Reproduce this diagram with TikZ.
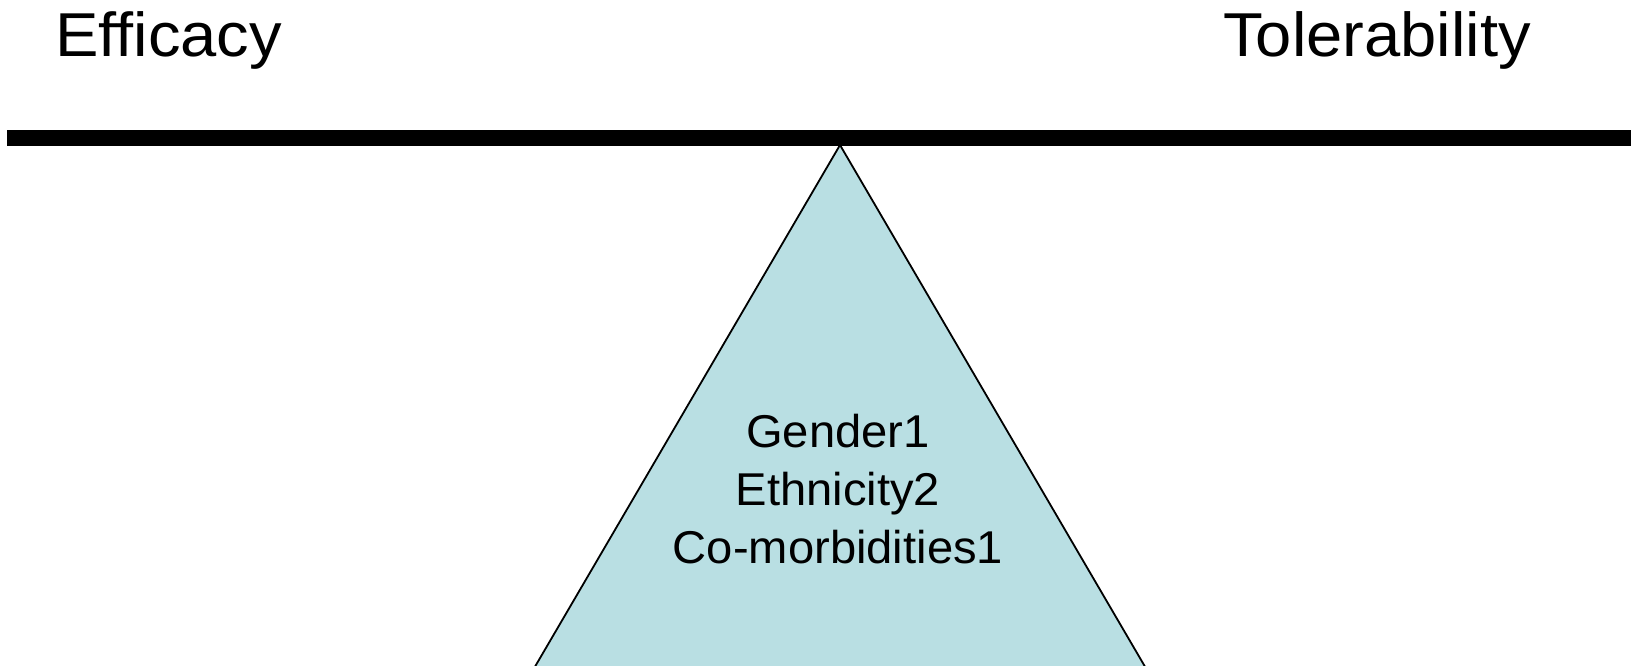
\documentclass[tikz,border=0pt]{standalone}
\usepackage{fontspec}
\setmainfont{Liberation Sans}
\newfontfamily\titlefont[FakeStretch=1.05,Ligatures=NoCommon]{Liberation Sans}
\newfontfamily\factorfont[FakeStretch=1.025]{Liberation Sans}
\definecolor{fulcrum}{RGB}{185,223,227}
\tikzset{
  title/.style={inner sep=0pt, font=\titlefont\fontsize{62}{62}\selectfont},
  factor/.style={inner sep=0pt, anchor=base, font=\factorfont\fontsize{46}{46}\selectfont},
}
\begin{document}
\begin{tikzpicture}[x=1pt,y=-1pt]
\useasboundingbox (0,0) rectangle (1631,665);
\clip (0,0) rectangle (1631,665);
% fulcrum triangle
\coordinate (apex) at (840,145);
\coordinate (bl) at (515.5,700);
\coordinate (br) at (1164.5,700);
\filldraw[fill=fulcrum, draw=black, line width=1.8pt, line join=miter] (bl) -- (apex) -- (br);
% beam
\fill[black] (7,130) rectangle (1640,146);
% labels
\node[title, anchor=base west] (eff) at (55,56.5) {Efficacy};
\node[title, anchor=base east] (tol) at (1531,56.5) {Tolerability};
\node[factor] (g1) at (838,447) {Gender1};
\node[factor] (g2) at (838,505) {Ethnicity2};
\node[factor] (g3) at (838,563) {Co-morbidities1};
\end{tikzpicture}
\end{document}
